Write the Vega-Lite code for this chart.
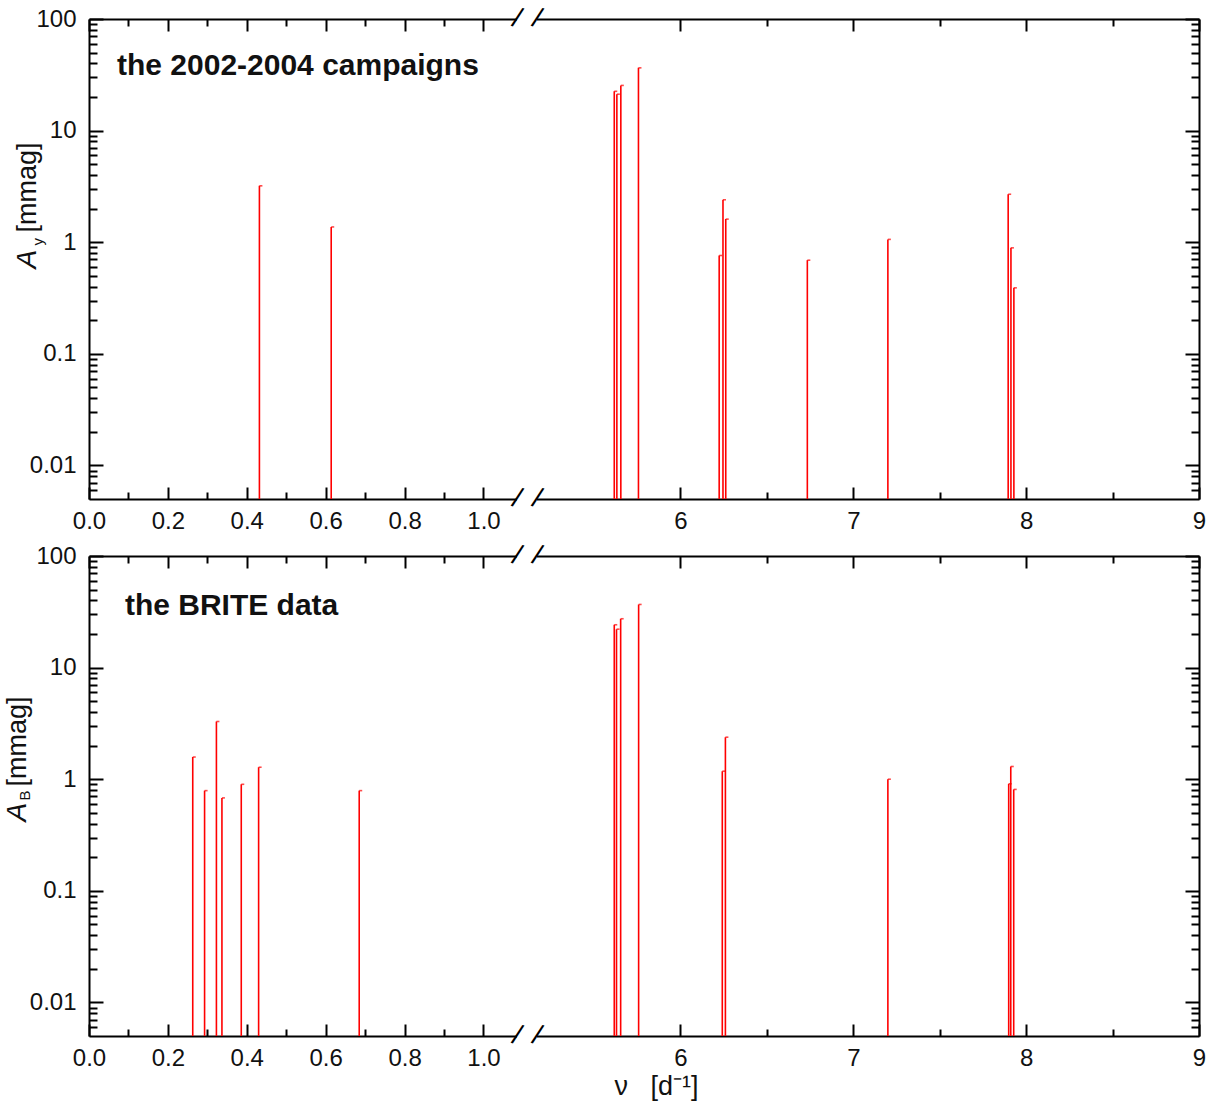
{
  "$schema": "https://vega.github.io/schema/vega-lite/v6.json",
  "background": "white",
  "padding": {"left": 3, "top": 4, "right": 5, "bottom": 5},
  "bounds": "flush",
  "spacing": 57,
  "datasets": {
    "campaigns": [
      {"nu": 0.432, "A": 3.2},
      {"nu": 0.614, "A": 1.37},
      {"nu": 5.617, "A": 22.5},
      {"nu": 5.632, "A": 21.2},
      {"nu": 5.655, "A": 25.4},
      {"nu": 5.757, "A": 36.5},
      {"nu": 6.224, "A": 0.76},
      {"nu": 6.246, "A": 2.4},
      {"nu": 6.262, "A": 1.61},
      {"nu": 6.734, "A": 0.69},
      {"nu": 7.2, "A": 1.06},
      {"nu": 7.896, "A": 2.69},
      {"nu": 7.912, "A": 0.89},
      {"nu": 7.929, "A": 0.39}
    ],
    "brite": [
      {"nu": 0.263, "A": 1.58},
      {"nu": 0.293, "A": 0.79},
      {"nu": 0.323, "A": 3.29},
      {"nu": 0.337, "A": 0.68},
      {"nu": 0.386, "A": 0.9},
      {"nu": 0.43, "A": 1.28},
      {"nu": 0.685, "A": 0.79},
      {"nu": 5.617, "A": 24.2},
      {"nu": 5.63, "A": 22.1},
      {"nu": 5.654, "A": 27.4},
      {"nu": 5.758, "A": 36.8},
      {"nu": 6.242, "A": 1.18},
      {"nu": 6.26, "A": 2.38},
      {"nu": 7.2, "A": 1.0},
      {"nu": 7.899, "A": 0.91},
      {"nu": 7.911, "A": 1.3},
      {"nu": 7.928, "A": 0.81}
    ],
    "gap": [
      {"x1": 1.085, "x2": 5.17, "A": 100},
      {"x1": 1.085, "x2": 5.17, "A": 0.005}
    ],
    "slashes": [
      {"nu": 1.085, "A": 100},
      {"nu": 5.17, "A": 100},
      {"nu": 1.085, "A": 0.005},
      {"nu": 5.17, "A": 0.005}
    ]
  },
  "config": {
    "view": {"stroke": null},
    "axis": {
      "grid": false, "domain": false, "ticks": false, "labels": false,
      "domainColor": "black", "domainWidth": 2, "tickColor": "black", "tickWidth": 2,
      "labelFont": "Liberation Sans", "labelFontSize": 24, "labelColor": "#111111",
      "titleFont": "Liberation Sans", "titleColor": "#111111", "titleFontWeight": "normal"
    }
  },
  "vconcat": [
    {
      "width": 1110, "height": 480,
      "data": {"name": "campaigns"},
      "resolve": {"axis": {"x": "independent", "y": "independent"}},
      "layer": [
        {
          "mark": {"type": "rule", "color": "#ff0000", "strokeWidth": 1.6},
          "encoding": {
            "x": {"field": "nu", "type": "quantitative",
              "scale": {"type": "linear", "domain": [0, 1.085, 5.17, 9], "range": [0, 428, 448, 1110], "nice": false, "zero": false},
              "axis": {"orient": "bottom", "values": [0, 0.2, 0.4, 0.6, 0.8, 1, 6, 7, 8, 9], "labels": true, "domain": true, "ticks": false,
                "labelExpr": "datum.value < 2 ? format(datum.value, '.1f') : format(datum.value, 'd')", "labelPadding": 10, "labelOverlap": false, "labelFlush": false, "title": null}},
            "y": {"field": "A", "type": "quantitative",
              "scale": {"type": "log", "domain": [0.005, 100], "nice": false},
              "axis": {"orient": "left", "values": [0.01, 0.1, 1, 10, 100], "labels": true, "domain": true, "ticks": false,
                "labelExpr": "format(datum.value, '~g')", "labelPadding": 13, "labelOverlap": false, "labelFlush": false,
                "title": "A", "titleFontStyle": "italic", "titleFontSize": 28, "titleAngle": 270, "titleAlign": "left", "titleBaseline": "alphabetic", "titleX": -54, "titleY": 249}},
            "y2": {"datum": 0.005}
          }
        },
        {
          "mark": {"type": "tick", "orient": "horizontal", "color": "#ff0000", "size": 3, "thickness": 1.6, "xOffset": 1.5},
          "encoding": {
            "x": {"field": "nu", "type": "quantitative", "axis": null},
            "y": {"field": "A", "type": "quantitative", "axis": null}
          }
        },
        {
          "mark": {"type": "point", "opacity": 0},
          "encoding": {
            "x": {"field": "nu", "type": "quantitative", "axis": {"orient": "bottom", "values": [0, 0.2, 0.4, 0.6, 0.8, 1, 6, 7, 8, 9], "ticks": true, "tickSize": -12, "title": null}},
            "y": {"field": "A", "type": "quantitative", "axis": {"orient": "left", "values": [0.01, 0.1, 1, 10, 100], "ticks": true, "tickSize": -14, "title": null}}
          }
        },
        {
          "mark": {"type": "point", "opacity": 0},
          "encoding": {
            "x": {"field": "nu", "type": "quantitative", "axis": {"orient": "bottom", "values": [0.1, 0.3, 0.5, 0.7, 0.9, 6.5, 7.5, 8.5], "ticks": true, "tickSize": -7, "title": null}},
            "y": {"field": "A", "type": "quantitative", "axis": {"orient": "left", "values": [0.006, 0.007, 0.008, 0.009, 0.02, 0.03, 0.04, 0.05, 0.06, 0.07, 0.08, 0.09, 0.2, 0.3, 0.4, 0.5, 0.6, 0.7, 0.8, 0.9, 2, 3, 4, 5, 6, 7, 8, 9, 20, 30, 40, 50, 60, 70, 80, 90], "ticks": true, "tickSize": -8, "title": null}}
          }
        },
        {
          "mark": {"type": "point", "opacity": 0},
          "encoding": {
            "x": {"field": "nu", "type": "quantitative", "axis": {"orient": "top", "values": [0, 0.2, 0.4, 0.6, 0.8, 1, 6, 7, 8, 9], "ticks": true, "domain": true, "tickSize": -12, "title": null}},
            "y": {"field": "A", "type": "quantitative", "axis": {"orient": "right", "values": [0.01, 0.1, 1, 10, 100], "ticks": true, "domain": true, "tickSize": -14, "title": null}}
          }
        },
        {
          "mark": {"type": "point", "opacity": 0},
          "encoding": {
            "x": {"field": "nu", "type": "quantitative", "axis": {"orient": "top", "values": [0.1, 0.3, 0.5, 0.7, 0.9, 6.5, 7.5, 8.5], "ticks": true, "tickSize": -7, "title": null}},
            "y": {"field": "A", "type": "quantitative", "axis": {"orient": "right", "values": [0.006, 0.007, 0.008, 0.009, 0.02, 0.03, 0.04, 0.05, 0.06, 0.07, 0.08, 0.09, 0.2, 0.3, 0.4, 0.5, 0.6, 0.7, 0.8, 0.9, 2, 3, 4, 5, 6, 7, 8, 9, 20, 30, 40, 50, 60, 70, 80, 90], "ticks": true, "tickSize": -8, "title": null}}
          }
        },
        {
          "mark": {"type": "point", "opacity": 0},
          "encoding": {
            "x": {"field": "nu", "type": "quantitative", "axis": null},
            "y": {"field": "A", "type": "quantitative", "axis": {"orient": "left", "title": "[mmag]", "titleFontSize": 27, "titleAngle": 270, "titleAlign": "left", "titleBaseline": "alphabetic", "titleX": -54, "titleY": 213}}
          }
        },
        {
          "mark": {"type": "point", "opacity": 0},
          "encoding": {
            "x": {"field": "nu", "type": "quantitative", "axis": null},
            "y": {"field": "A", "type": "quantitative", "axis": {"orient": "left", "title": "y", "titleFontSize": 15, "titleAngle": 270, "titleAlign": "left", "titleBaseline": "alphabetic", "titleX": -47, "titleY": 226}}
          }
        },
        {
          "data": {"values": [{"nu": 0.071, "A": 38, "label": "the 2002-2004 campaigns"}]},
          "mark": {"type": "text", "font": "Liberation Sans", "fontWeight": "bold", "fontSize": 30, "align": "left", "baseline": "middle", "color": "#111111"},
          "encoding": {
            "x": {"field": "nu", "type": "quantitative", "axis": null},
            "y": {"field": "A", "type": "quantitative", "axis": null},
            "text": {"field": "label"}
          }
        },
        {
          "data": {"name": "gap"},
          "mark": {"type": "rule", "color": "white", "strokeWidth": 5},
          "encoding": {
            "x": {"field": "x1", "type": "quantitative", "axis": null},
            "x2": {"field": "x2"},
            "y": {"field": "A", "type": "quantitative", "axis": null}
          }
        },
        {
          "data": {"name": "slashes"},
          "mark": {"type": "text", "text": "/", "font": "Liberation Sans", "fontSize": 28, "angle": 18, "align": "center", "baseline": "middle", "color": "black"},
          "encoding": {
            "x": {"field": "nu", "type": "quantitative", "axis": null},
            "y": {"field": "A", "type": "quantitative", "axis": null}
          }
        }
      ]
    },
    {
      "width": 1110, "height": 480,
      "data": {"name": "brite"},
      "resolve": {"axis": {"x": "independent", "y": "independent"}},
      "layer": [
        {
          "mark": {"type": "rule", "color": "#ff0000", "strokeWidth": 1.6},
          "encoding": {
            "x": {"field": "nu", "type": "quantitative",
              "scale": {"type": "linear", "domain": [0, 1.085, 5.17, 9], "range": [0, 428, 448, 1110], "nice": false, "zero": false},
              "axis": {"orient": "bottom", "values": [0, 0.2, 0.4, 0.6, 0.8, 1, 6, 7, 8, 9], "labels": true, "domain": true, "ticks": false,
                "labelExpr": "datum.value < 2 ? format(datum.value, '.1f') : format(datum.value, 'd')", "labelPadding": 10, "labelOverlap": false, "labelFlush": false,
                "title": "ν\u00a0\u00a0\u00a0[d⁻¹]", "titleFontSize": 27, "titleAngle": 0, "titleAlign": "center", "titleBaseline": "alphabetic", "titleX": 567, "titleY": 58}},
            "y": {"field": "A", "type": "quantitative",
              "scale": {"type": "log", "domain": [0.005, 100], "nice": false},
              "axis": {"orient": "left", "values": [0.01, 0.1, 1, 10, 100], "labels": true, "domain": true, "ticks": false,
                "labelExpr": "format(datum.value, '~g')", "labelPadding": 13, "labelOverlap": false, "labelFlush": false,
                "title": "A", "titleFontStyle": "italic", "titleFontSize": 28, "titleAngle": 270, "titleAlign": "left", "titleBaseline": "alphabetic", "titleX": -64, "titleY": 265}},
            "y2": {"datum": 0.005}
          }
        },
        {
          "mark": {"type": "tick", "orient": "horizontal", "color": "#ff0000", "size": 3, "thickness": 1.6, "xOffset": 1.5},
          "encoding": {
            "x": {"field": "nu", "type": "quantitative", "axis": null},
            "y": {"field": "A", "type": "quantitative", "axis": null}
          }
        },
        {
          "mark": {"type": "point", "opacity": 0},
          "encoding": {
            "x": {"field": "nu", "type": "quantitative", "axis": {"orient": "bottom", "values": [0, 0.2, 0.4, 0.6, 0.8, 1, 6, 7, 8, 9], "ticks": true, "tickSize": -12, "title": null}},
            "y": {"field": "A", "type": "quantitative", "axis": {"orient": "left", "values": [0.01, 0.1, 1, 10, 100], "ticks": true, "tickSize": -14, "title": null}}
          }
        },
        {
          "mark": {"type": "point", "opacity": 0},
          "encoding": {
            "x": {"field": "nu", "type": "quantitative", "axis": {"orient": "bottom", "values": [0.1, 0.3, 0.5, 0.7, 0.9, 6.5, 7.5, 8.5], "ticks": true, "tickSize": -7, "title": null}},
            "y": {"field": "A", "type": "quantitative", "axis": {"orient": "left", "values": [0.006, 0.007, 0.008, 0.009, 0.02, 0.03, 0.04, 0.05, 0.06, 0.07, 0.08, 0.09, 0.2, 0.3, 0.4, 0.5, 0.6, 0.7, 0.8, 0.9, 2, 3, 4, 5, 6, 7, 8, 9, 20, 30, 40, 50, 60, 70, 80, 90], "ticks": true, "tickSize": -8, "title": null}}
          }
        },
        {
          "mark": {"type": "point", "opacity": 0},
          "encoding": {
            "x": {"field": "nu", "type": "quantitative", "axis": {"orient": "top", "values": [0, 0.2, 0.4, 0.6, 0.8, 1, 6, 7, 8, 9], "ticks": true, "domain": true, "tickSize": -12, "title": null}},
            "y": {"field": "A", "type": "quantitative", "axis": {"orient": "right", "values": [0.01, 0.1, 1, 10, 100], "ticks": true, "domain": true, "tickSize": -14, "title": null}}
          }
        },
        {
          "mark": {"type": "point", "opacity": 0},
          "encoding": {
            "x": {"field": "nu", "type": "quantitative", "axis": {"orient": "top", "values": [0.1, 0.3, 0.5, 0.7, 0.9, 6.5, 7.5, 8.5], "ticks": true, "tickSize": -7, "title": null}},
            "y": {"field": "A", "type": "quantitative", "axis": {"orient": "right", "values": [0.006, 0.007, 0.008, 0.009, 0.02, 0.03, 0.04, 0.05, 0.06, 0.07, 0.08, 0.09, 0.2, 0.3, 0.4, 0.5, 0.6, 0.7, 0.8, 0.9, 2, 3, 4, 5, 6, 7, 8, 9, 20, 30, 40, 50, 60, 70, 80, 90], "ticks": true, "tickSize": -8, "title": null}}
          }
        },
        {
          "mark": {"type": "point", "opacity": 0},
          "encoding": {
            "x": {"field": "nu", "type": "quantitative", "axis": null},
            "y": {"field": "A", "type": "quantitative", "axis": {"orient": "left", "title": "[mmag]", "titleFontSize": 27, "titleAngle": 270, "titleAlign": "left", "titleBaseline": "alphabetic", "titleX": -64, "titleY": 230}}
          }
        },
        {
          "mark": {"type": "point", "opacity": 0},
          "encoding": {
            "x": {"field": "nu", "type": "quantitative", "axis": null},
            "y": {"field": "A", "type": "quantitative", "axis": {"orient": "left", "title": "B", "titleFontSize": 15, "titleAngle": 270, "titleAlign": "left", "titleBaseline": "alphabetic", "titleX": -60, "titleY": 244}}
          }
        },
        {
          "data": {"values": [{"nu": 0.091, "A": 35.6, "label": "the BRITE data"}]},
          "mark": {"type": "text", "font": "Liberation Sans", "fontWeight": "bold", "fontSize": 30, "align": "left", "baseline": "middle", "color": "#111111"},
          "encoding": {
            "x": {"field": "nu", "type": "quantitative", "axis": null},
            "y": {"field": "A", "type": "quantitative", "axis": null},
            "text": {"field": "label"}
          }
        },
        {
          "data": {"name": "gap"},
          "mark": {"type": "rule", "color": "white", "strokeWidth": 5},
          "encoding": {
            "x": {"field": "x1", "type": "quantitative", "axis": null},
            "x2": {"field": "x2"},
            "y": {"field": "A", "type": "quantitative", "axis": null}
          }
        },
        {
          "data": {"name": "slashes"},
          "mark": {"type": "text", "text": "/", "font": "Liberation Sans", "fontSize": 28, "angle": 18, "align": "center", "baseline": "middle", "color": "black"},
          "encoding": {
            "x": {"field": "nu", "type": "quantitative", "axis": null},
            "y": {"field": "A", "type": "quantitative", "axis": null}
          }
        }
      ]
    }
  ]
}
